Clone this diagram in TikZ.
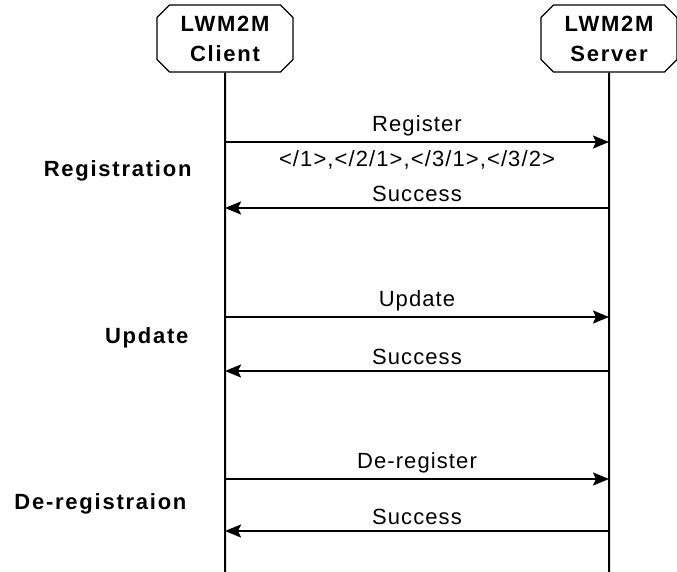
\documentclass[tikz,border=0pt]{standalone}
\usepackage{fontspec}
\setmainfont{Liberation Sans}
\newfontfamily\msgfont[LetterSpace=5]{Liberation Sans}
\newfontfamily\headfont[LetterSpace=8]{Liberation Sans}
\usetikzlibrary{positioning, shapes.misc}
\usetikzlibrary{arrows, arrows.meta}

\begin{document}
\begin{tikzpicture}[x=1pt, y=-1pt,
  party/.style={draw, line width=1.3pt, chamfered rectangle, chamfered rectangle xsep=9pt,
    minimum width=136pt, minimum height=67pt, inner sep=0pt, align=center,
    font=\fontsize{22}{30}\headfont\bfseries},
  life/.style={line width=2pt},
  msg/.style={line width=2pt, -{Stealth[length=16pt,width=13pt,inset=3pt]}},
  lbl/.style={font=\fontsize{22}{26}\msgfont},
  phase/.style={font=\fontsize{22}{26}\headfont\bfseries, anchor=east}]
  \useasboundingbox (0,0) rectangle (677,572);
  % parties and lifelines
  \node[party] (client) at (225,38.5) {LWM2M\\Client};
  \node[party] (server) at (609,38.5) {LWM2M\\Server};
  \coordinate (clientEnd) at (225,572);
  \coordinate (serverEnd) at (609,572);
  \draw[life] (client) -- (clientEnd);
  \draw[life] (server) -- (serverEnd);
  % registration
  \coordinate (c1) at (225,142); \coordinate (s1) at (609,142);
  \coordinate (c2) at (225,208); \coordinate (s2) at (609,208);
  \draw[msg] (c1) -- node[lbl, above=2pt] {Register} node[lbl, below=4pt] {</1>,</2/1>,</3/1>,</3/2>} (s1);
  \draw[msg] (s2) -- node[lbl, above=2pt] {Success} (c2);
  \node[phase] (reg) at (195,171) {Registration};
  % update
  \coordinate (c3) at (225,317); \coordinate (s3) at (609,317);
  \coordinate (c4) at (225,371); \coordinate (s4) at (609,371);
  \draw[msg] (c3) -- node[lbl, above=2pt] {Update} (s3);
  \draw[msg] (s4) -- node[lbl, above=2pt] {Success} (c4);
  \node[phase] (upd) at (192,338) {Update};
  % de-registration
  \coordinate (c5) at (225,479); \coordinate (s5) at (609,479);
  \coordinate (c6) at (225,531); \coordinate (s6) at (609,531);
  \draw[msg] (c5) -- node[lbl, above=2pt] {De-register} (s5);
  \draw[msg] (s6) -- node[lbl, above=2pt] {Success} (c6);
  \node[phase] (dereg) at (190,504) {De-registraion};
\end{tikzpicture}
\end{document}
